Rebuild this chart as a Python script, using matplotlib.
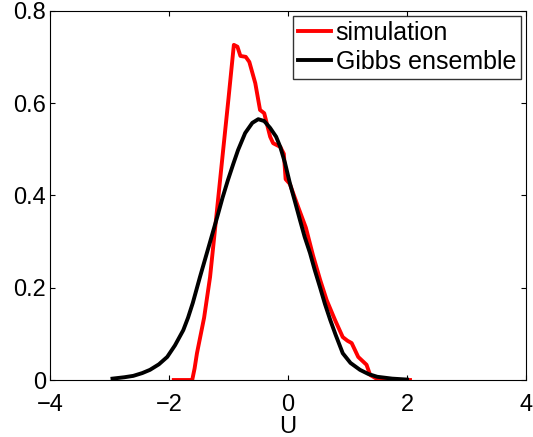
import matplotlib
matplotlib.use("Agg")
import matplotlib.pyplot as plt

plt.rcParams['font.family'] = ['Liberation Sans', 'DejaVu Sans']

# simulation (red)
sim_u = [-1.92, -1.61, -1.57, -1.53, -1.41, -1.31, -1.20, -1.09, -1.00, -0.91,
         -0.85, -0.80, -0.71, -0.65, -0.55, -0.47, -0.40, -0.30, -0.25, -0.13,
         -0.07, -0.04, 0.03, 0.17, 0.30, 0.42, 0.54, 0.65, 0.79, 0.92, 1.00, 1.07,
         1.18, 1.32, 1.38, 1.50, 1.70, 2.05]
sim_p = [0.0, 0.0, 0.025, 0.058, 0.135, 0.223, 0.36, 0.498, 0.61, 0.726,
         0.722, 0.702, 0.700, 0.689, 0.643, 0.585, 0.578, 0.527, 0.513, 0.505,
         0.49, 0.435, 0.425, 0.375, 0.33, 0.27, 0.217, 0.173, 0.13, 0.093, 0.085, 0.08,
         0.05, 0.033, 0.011, 0.002, 0.0, 0.0]

# Gibbs ensemble (black)
gibbs_u = [-2.95, -2.75, -2.60, -2.45, -2.32, -2.17, -2.03, -1.90, -1.76, -1.68,
           -1.60, -1.48, -1.33, -1.19, -1.10, -1.01, -0.92, -0.84, -0.72, -0.60,
           -0.50, -0.40, -0.30, -0.20, -0.13, -0.05, 0.03, 0.12, 0.20, 0.28,
           0.37, 0.45, 0.54, 0.62, 0.71, 0.80, 0.92, 1.05, 1.21, 1.35, 1.50,
           1.75, 2.00]
gibbs_p = [0.003, 0.006, 0.009, 0.015, 0.022, 0.034, 0.050, 0.075, 0.108, 0.135,
           0.167, 0.223, 0.290, 0.353, 0.395, 0.433, 0.468, 0.498, 0.535, 0.557,
           0.565, 0.561, 0.546, 0.527, 0.505, 0.470, 0.427, 0.385, 0.347, 0.310,
           0.275, 0.238, 0.200, 0.165, 0.130, 0.098, 0.058, 0.037, 0.022, 0.013, 0.007,
           0.003, 0.001]

fig = plt.figure(figsize=(5.33, 4.37), dpi=100)
ax = fig.add_axes([0.0938, 0.1304, 0.8931, 0.8451])

ax.plot(sim_u, sim_p, color='#ff0000', lw=2.8, label='simulation', solid_joinstyle='round')
ax.plot(gibbs_u, gibbs_p, color='black', lw=2.8, label='Gibbs ensemble', solid_joinstyle='round')

ax.set_xlim(-4, 4)
ax.set_ylim(0, 0.8)
ax.set_xticks([-4, -2, 0, 2, 4])
ax.set_yticks([0, 0.2, 0.4, 0.6, 0.8])
ax.set_yticklabels(['0', '0.2', '0.4', '0.6', '0.8'])
ax.tick_params(direction='in', top=True, right=True, length=3.5, labelsize=17)
ax.tick_params(axis='x', pad=10)
ax.tick_params(axis='y', pad=3)
ax.set_xlabel('U', fontsize=17, labelpad=0)

leg = ax.legend(loc='upper right', fontsize=18, frameon=True, fancybox=False,
                edgecolor='black', borderaxespad=0.2, handlelength=1.3,
                handletextpad=0.2, borderpad=0.2, labelspacing=0.2)
leg.get_frame().set_linewidth(1.0)

fig.savefig('out.png', dpi=100)
